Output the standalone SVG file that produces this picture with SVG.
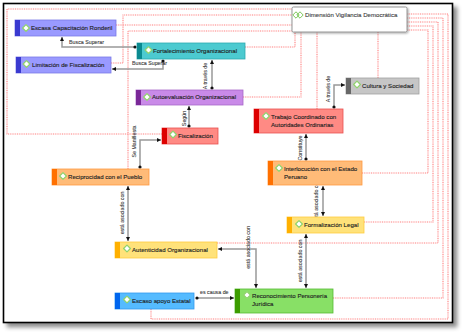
<svg xmlns="http://www.w3.org/2000/svg" xmlns:xlink="http://www.w3.org/1999/xlink" width="463" height="333" viewBox="0 0 463 333">
<style>
text{font-family:"Liberation Sans",Arial,sans-serif;}
.nt{font-size:6.1px;fill:#222;stroke:#222;stroke-width:0.12;}
.lb{font-size:5.3px;fill:#333;stroke:#333;stroke-width:0.08;}
.dot{fill:none;stroke:#ff8080;stroke-width:1.1;stroke-dasharray:1 0.8;}
.cn{fill:none;stroke:#999;stroke-width:1.5;}
.blue{fill:#9a9aff;stroke:#7a7ae6;stroke-width:0.8;}
.blueb{fill:#3a3ad0;}
.teal{fill:#4ccad0;stroke:#2eaab0;stroke-width:0.8;}
.tealb{fill:#0a8a90;}
.purp{fill:#c98ae8;stroke:#a868c8;stroke-width:0.8;}
.purpb{fill:#7a2898;}
.gray{fill:#c6c6c6;stroke:#a0a0a0;stroke-width:0.8;}
.grayb{fill:#686868;}
.red{fill:#ff8a84;stroke:#e85050;stroke-width:0.8;}
.redb{fill:#dd0000;}
.ora{fill:#ffbb78;stroke:#ff9a40;stroke-width:0.8;}
.orab{fill:#ff7000;}
.yel{fill:#ffe27a;stroke:#ffcc40;stroke-width:0.8;}
.yelb{fill:#ffb000;}
.lbl{fill:#55bbff;stroke:#3399ee;stroke-width:0.8;}
.lblb{fill:#0066ee;}
.grn{fill:#88e066;stroke:#55bb33;stroke-width:0.8;}
.grnb{fill:#3c9c00;}
</style>
<defs>
<filter id="sh" x="-5%" y="-5%" width="115%" height="115%">
<feDropShadow dx="4" dy="4" stdDeviation="2" flood-color="#000" flood-opacity="0.45"/>
</filter>
<filter id="sh2" x="-10%" y="-20%" width="130%" height="160%">
<feDropShadow dx="1" dy="1" stdDeviation="0.8" flood-color="#000" flood-opacity="0.35"/>
</filter>
<marker id="arr" viewBox="0 0 6 6" refX="6" refY="3" markerWidth="4" markerHeight="4" markerUnits="userSpaceOnUse" orient="auto-start-reverse">
<path d="M0,0 L6,3 L0,6 z" fill="#111"/>
</marker>
<marker id="dt" viewBox="0 0 4 4" refX="2" refY="2" markerWidth="3.2" markerHeight="3.2" markerUnits="userSpaceOnUse">
<circle cx="2" cy="2" r="2" fill="#111"/>
</marker>
<g id="ic"><path d="M0,-3.4 L3.4,0 L0,3.4 L-3.4,0 Z" fill="#fff" stroke="#8fd36c" stroke-width="1.2" stroke-linejoin="round"/></g>
</defs>

<rect x="3.5" y="3.5" width="449" height="319" fill="#fff" stroke="#000" stroke-width="1.6" filter="url(#sh)"/>

<g id="hierarchy">
<path class="dot" d="M162,134 H7 V9 H292"/>
<path class="dot" d="M111,63 H123 V15 H292"/>
<path class="dot" d="M116,25 H292"/>
<path class="dot" d="M128,169 V31 H292"/>
<path class="dot" d="M245,47 H295 V32"/>
<path class="dot" d="M243,97 H301 V32"/>
<path class="dot" d="M317,109 V32"/>
<path class="dot" d="M378,78 V32"/>
<path class="dot" d="M362,173 H428 V30 H407"/>
<path class="dot" d="M364,222 H433 V26 H407"/>
<path class="dot" d="M217,243 H438 V22 H407"/>
<path class="dot" d="M333,298 H443 V18 H407"/>
<path class="dot" d="M151,309 V319 H448 V14 H407"/>
</g>

<g id="connectors">
<path class="cn" d="M135,47 H62 V37" marker-start="url(#dt)" marker-end="url(#arr)"/>
<text class="lb" x="69" y="43.5">Busca Superar</text>
<path class="cn" d="M163,61 V69 H112" marker-start="url(#dt)" marker-end="url(#arr)"/>
<text class="lb" x="132" y="64.5">Busca Superar</text>
<path class="cn" d="M212,88 V60" marker-start="url(#dt)" marker-end="url(#arr)"/>
<text class="lb" transform="translate(206.5,76) rotate(-90)" text-anchor="middle">A través de</text>
<path class="cn" d="M189,126 V106" marker-start="url(#dt)" marker-end="url(#arr)"/>
<text class="lb" transform="translate(185.5,118.5) rotate(-90)" text-anchor="middle">Según</text>
<path class="cn" d="M140,167 V140 H161" marker-start="url(#dt)" marker-end="url(#arr)"/>
<text class="lb" transform="translate(136,141.5) rotate(-90)" text-anchor="middle">Se Manifiesta</text>
<path class="cn" d="M334,107 V85 H345" marker-start="url(#dt)" marker-end="url(#arr)"/>
<text class="lb" transform="translate(330,89) rotate(-90)" text-anchor="middle">A través de</text>
<path class="cn" d="M306,159 V134" marker-start="url(#dt)" marker-end="url(#arr)"/>
<text class="lb" transform="translate(302,148) rotate(-90)" text-anchor="middle">Constituye</text>
<path class="cn" d="M323,186 V216" marker-start="url(#arr)" marker-end="url(#arr)"/>
<text class="lb" transform="translate(318,201) rotate(-90)" text-anchor="middle">está asociado con</text>
<path class="cn" d="M128,186 V241" marker-start="url(#arr)" marker-end="url(#arr)"/>
<text class="lb" transform="translate(124,213) rotate(-90)" text-anchor="middle">está asociado con</text>
<path class="cn" d="M218,249 H256 V288" marker-start="url(#arr)" marker-end="url(#arr)"/>
<text class="lb" transform="translate(250,247.5) rotate(-90)" text-anchor="middle">está asociado con</text>
<path class="cn" d="M306,234 V288" marker-start="url(#arr)" marker-end="url(#arr)"/>
<text class="lb" transform="translate(302,261) rotate(-90)" text-anchor="middle">está asociado con</text>
<path class="cn" d="M197,298 H234" marker-start="url(#dt)" marker-end="url(#arr)"/>
<text class="lb" x="200" y="293.5">es causa de</text>
</g>

<g id="n-dimension">
<rect x="292" y="7" width="115" height="25" rx="1.5" fill="#fff" stroke="#8a8a8a" stroke-width="0.9" filter="url(#sh2)"/>
<path d="M296,11.8 L299.2,15 L296,18.2 L292.8,15 Z M300,11.8 L303.2,15 L300,18.2 L296.8,15 Z" fill="none" stroke="#7cc85a" stroke-width="1"/>
<text class="nt" x="305" y="17.3" style="fill:#444;stroke:#444">Dimensión Vigilancia Democrática</text>
</g>

<g id="n-escasa">
<rect class="blue" x="15" y="20" width="101" height="16"/>
<rect class="blueb" x="15" y="20" width="5" height="16"/>
<use href="#ic" x="26" y="28"/>
<text class="nt" x="31" y="30.2">Escasa Capacitación Ronderil</text>
</g>

<g id="n-limitacion">
<rect class="blue" x="16" y="57" width="95" height="16"/>
<rect class="blueb" x="16" y="57" width="5" height="16"/>
<use href="#ic" x="26.5" y="64"/>
<text class="nt" x="32" y="66.5">Limitación de Fiscalización</text>
</g>

<g id="n-fortalecimiento">
<rect class="teal" x="137" y="43" width="108" height="16"/>
<rect class="tealb" x="137" y="43" width="5" height="16"/>
<use href="#ic" x="148.5" y="50"/>
<text class="nt" x="153" y="53">Fortalecimiento Organizacional</text>
</g>

<g id="n-autoevaluacion">
<rect class="purp" x="136" y="90" width="107" height="15"/>
<rect class="purpb" x="136" y="90" width="5" height="15"/>
<use href="#ic" x="147" y="97"/>
<text class="nt" x="152" y="99.3">Autoevaluación Organizacional</text>
</g>

<g id="n-cultura">
<rect class="gray" x="346" y="78" width="73" height="16"/>
<rect class="grayb" x="346" y="78" width="5" height="16"/>
<use href="#ic" x="357" y="84.5"/>
<text class="nt" x="362" y="87.5">Cultura y Sociedad</text>
</g>

<g id="n-fiscalizacion">
<rect class="red" x="162" y="128" width="56" height="16"/>
<rect class="redb" x="162" y="128" width="5" height="16"/>
<use href="#ic" x="173" y="134.5"/>
<text class="nt" x="178" y="137.5">Fiscalización</text>
</g>

<g id="n-trabajo">
<rect class="red" x="254" y="109" width="89" height="24"/>
<rect class="redb" x="254" y="109" width="5" height="24"/>
<use href="#ic" x="266" y="116"/>
<text class="nt" x="271" y="118.5">Trabajo Coordinado con</text>
<text class="nt" x="271" y="126.5">Autoridades Ordinarias</text>
</g>

<g id="n-reciprocidad">
<rect class="ora" x="52" y="169" width="97" height="16"/>
<rect class="orab" x="52" y="169" width="5" height="16"/>
<use href="#ic" x="63" y="176"/>
<text class="nt" x="68" y="179">Reciprocidad con el Pueblo</text>
</g>

<g id="n-interlocucion">
<rect class="ora" x="268" y="161" width="94" height="24"/>
<rect class="orab" x="268" y="161" width="5" height="24"/>
<use href="#ic" x="279" y="168"/>
<text class="nt" x="284" y="170.5">Interlocución con el Estado</text>
<text class="nt" x="284" y="178.5">Peruano</text>
</g>

<g id="n-formalizacion">
<rect class="yel" x="287" y="217" width="77" height="16"/>
<rect class="yelb" x="287" y="217" width="5" height="16"/>
<use href="#ic" x="299" y="224"/>
<text class="nt" x="304" y="227">Formalización Legal</text>
</g>

<g id="n-autenticidad">
<rect class="yel" x="115" y="242" width="102" height="16"/>
<rect class="yelb" x="115" y="242" width="5" height="16"/>
<use href="#ic" x="127" y="248.5"/>
<text class="nt" x="132" y="251.5">Autenticidad Organizacional</text>
</g>

<g id="n-escaso">
<rect class="lbl" x="115" y="293" width="79" height="16"/>
<rect class="lblb" x="115" y="293" width="5" height="16"/>
<use href="#ic" x="127" y="299.5"/>
<text class="nt" x="132" y="302.5">Escaso apoyo Estatal</text>
</g>

<g id="n-reconocimiento">
<rect class="grn" x="235" y="289" width="98" height="24"/>
<rect class="grnb" x="235" y="289" width="5" height="24"/>
<use href="#ic" x="247" y="295"/>
<text class="nt" x="252" y="297.5">Reconocimiento Personería</text>
<text class="nt" x="252" y="305.5">Jurídica</text>
</g>
</svg>
